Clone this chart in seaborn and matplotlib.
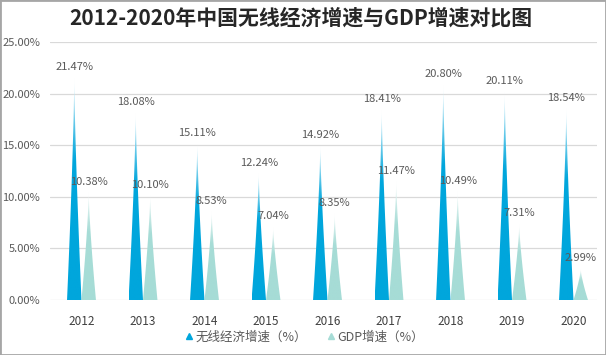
import numpy as np
import pandas as pd
import matplotlib
matplotlib.use('Agg')
import matplotlib.pyplot as plt
import seaborn as sns
from matplotlib.patches import Polygon, Rectangle
from matplotlib.lines import Line2D
from matplotlib.colors import to_rgb
from matplotlib.ticker import FuncFormatter

years = ['2012', '2013', '2014', '2015', '2016', '2017', '2018', '2019', '2020']
wireless = [21.47, 18.08, 15.11, 12.24, 14.92, 18.41, 20.80, 20.11, 18.54]
gdp = [10.38, 10.10, 8.53, 7.04, 8.35, 11.47, 10.49, 7.31, 2.99]
series = ['无线经济增速（%）', 'GDP增速（%）']
colors = ['#00a6dc', '#a6dcd6']
title = '2012-2020年中国无线经济增速与GDP增速对比图'

df = pd.DataFrame({
    'year': years * 2,
    'value': wireless + gdp,
    'series': [series[0]] * len(years) + [series[1]] * len(years),
})

sns.set_theme(style='white')
plt.rcParams['font.family'] = ['Noto Sans CJK SC', 'DejaVu Sans']

fig = plt.figure(figsize=(6.06, 3.55), dpi=100)
ax = fig.add_axes([50 / 606, 55 / 355, 547 / 606, 258 / 355])
sns.barplot(data=df, x='year', y='value', hue='series', palette=colors,
            width=0.47, legend=False, ax=ax)

# turn each bar into a pointed spike with a fading tip
for cont, col in zip(ax.containers, colors):
    c = np.array(to_rgb(col))
    for bar in cont:
        x0, w, h = bar.get_x(), bar.get_width(), bar.get_height()
        xc = x0 + w / 2
        bar.set_visible(False)
        t = np.linspace(0, 1, 60)
        hw = w / 2 * (1 - t) ** 1.35
        xs = np.concatenate([xc - hw, (xc + hw)[::-1]])
        ys = np.concatenate([t * h, (t * h)[::-1]])
        poly = Polygon(np.column_stack([xs, ys]), closed=True,
                       facecolor='none', edgecolor='none')
        ax.add_patch(poly)
        tt = np.linspace(0, 1, 120)[:, None]
        mix = np.clip((tt - 0.62) / 0.38, 0, 1) ** 1.2 * 0.95
        img = c[None, :] * (1 - mix) + np.ones(3)[None, :] * mix
        img = img[:, None, :]
        im = ax.imshow(img, extent=[x0, x0 + w, 0, h], origin='lower',
                       aspect='auto', zorder=2, interpolation='bilinear')
        im.set_clip_path(poly)
        ax.annotate(f'{h:.2f}%', (xc, h), xytext=(0, 8),
                    textcoords='offset points', ha='center', va='center',
                    fontsize=8, color='#595959', zorder=3)

ax.set_xlim(-0.512, 8.382)
ax.set_ylim(0, 25)
ax.set_yticks(np.arange(0, 26, 5))
ax.yaxis.set_major_formatter(FuncFormatter(lambda v, p: f'{v:.2f}%'))
ax.yaxis.grid(True, color='#d9d9d9', lw=0.9)
ax.set_axisbelow(True)
for s in ax.spines.values():
    s.set_visible(False)
ax.tick_params(axis='y', length=0, pad=7, labelsize=8, labelcolor='#595959')
ax.tick_params(axis='x', length=0, pad=11, labelsize=8.5, labelcolor='#404040')
ax.set_xlabel('')
ax.set_ylabel('')

fig.text(301 / 606, 1 - 18 / 355, title, ha='center', va='center',
         fontsize=15, fontweight='bold', color='#262626')

handles = [
    Line2D([], [], ls='none', marker='^', markersize=5, color=colors[0]),
    Line2D([], [], ls='none', marker='^', markersize=4, color=colors[1]),
]
fig.legend(handles, series, loc='center', bbox_to_anchor=(304 / 606, 1 - 337 / 355),
           ncol=2, frameon=False, fontsize=9, labelcolor='#595959',
           handletextpad=0.1, columnspacing=1.5, handlelength=0.8)

fig.add_artist(Rectangle((0, 0), 1, 1, transform=fig.transFigure, fill=False,
                         edgecolor='#a6a6a6', lw=2))

fig.savefig('out.png', dpi=100, facecolor='white')
